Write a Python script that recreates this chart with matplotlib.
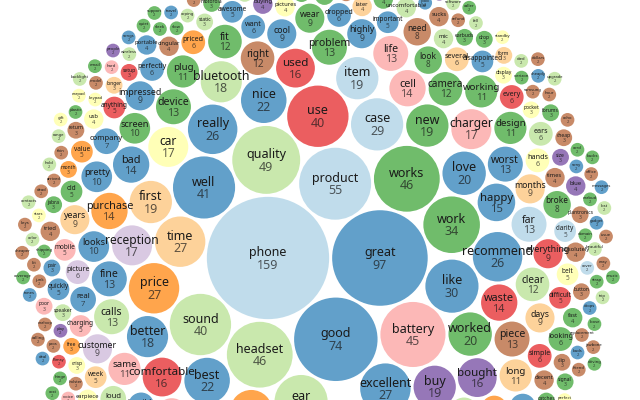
import numpy as np
import matplotlib
matplotlib.use("Agg")
import matplotlib.pyplot as plt
from matplotlib.patches import Circle

# word frequencies in packing order (largest words first)
head_words = [
    "phone", "great", "good", "product", "quality", "headset", "works", "battery",
    "well", "sound", "use", "work", "ear", "like", "case", "excellent", "time", "price",
    "recommend", "really", "service", "best", "nice", "love", "worked",
    "money", "new", "first", "buy", "item", "bluetooth", "headphones", "charger", "car",
    "better", "comfortable", "reception", "bought", "used", "happy", "waste",
    "received", "replace", "buttons", "bad", "purchase", "cell", "far", "reviews",
    "problem", "life", "device", "fine", "calls", "earpieces", "worst", "piece", "right",
    "speakerphone", "charged", "camera", "clear", "fit", "batteries",
    "plug", "design", "long", "working", "amazing", "returned", "same", "fits", "pretty",
    "texts", "screen", "impressed", "looks",
]
head_counts = [
    159, 97, 74, 55, 49, 46, 46, 45,
    41, 40, 40, 34, 30, 30, 29, 27, 27, 27,
    26, 26, 23, 22, 22, 20, 20,
    19, 19, 19, 19, 19, 18, 18, 17, 17,
    18, 16, 17, 16, 16, 15, 14,
    14, 14, 13, 14, 14, 14, 13, 13,
    13, 13, 13, 13, 13, 13, 13, 13, 12,
    11, 11, 12, 12, 12, 10,
    11, 11, 11, 11, 9, 11, 11, 10, 10,
    10, 10, 9, 10,
]
head_groups = [
    0, 1, 1, 0, 2, 2, 3, 4,
    1, 2, 5, 3, 2, 1, 0, 1, 6, 7,
    1, 1, 0, 1, 1, 1, 3,
    7, 3, 6, 9, 0, 2, 2, 4, 10,
    1, 5, 8, 9, 5, 1, 5,
    3, 1, 11, 1, 7, 4, 0, 0,
    3, 4, 3, 1, 2, 2, 1, 11, 11,
    4, 6, 3, 2, 3, 1,
    3, 3, 6, 3, 2, 11, 4, 3, 1,
    1, 3, 1, 1,
]

# smaller words, grouped by count
tail_words = [
    "highly", "months", "days", "call", "years", "everything", "cool", "amazon",
    "wear", "customer",
    "broke", "look", "unit", "need",
    "horrible", "internet", "big", "loud", "audio", "real", "headsets", "company", "completely",
    "picture", "priced", "hands", "three", "want", "every", "perfectly", "cable", "several",
    "dropped", "simple", "looking", "ears",
    "awesome", "connected", "easily", "value", "clarity", "original", "disappointed",
    "important", "difficult", "belt", "expect", "old", "quickly", "charging", "different",
    "week", "hours", "anything", "high", "mobile", "line",
    "usb", "times", "pictures", "buying", "uncomfortable", "tried", "blue", "mic", "ringtone",
    "earpiece", "wife", "later", "sucks", "decent", "easier", "bargain", "leather",
    "instructions", "fast", "outside", "purchased", "cingular", "absolutely", "portable",
    "small", "volume",
    "keyboard", "speaker", "free", "static", "wearing", "catches", "chargers", "pocket",
    "display", "flip", "area", "crisp", "forums", "setup", "month", "size", "pair", "longer",
    "comfort", "form", "charge", "plantronics", "noise", "cheap", "button", "earbuds", "style",
    "clip", "hear", "drop", "poor", "broken", "return", "motorola", "jabra", "sturdy",
    "adapter", "signal",
    "games", "mp3", "graphics", "atoms", "slow", "domain", "play", "durable", "huge", "pros",
    "drops", "angles", "cover", "solution", "coping", "pleased", "stereo", "nokia", "razr",
    "samsung", "verizon", "sony", "ipod", "keypad", "holster", "earbud", "ring", "wireless",
    "gadget", "stars", "warranty", "strap", "replacement", "refund", "seller", "shipping",
    "arrived", "package", "feature", "features", "model", "version", "color", "weight",
    "heavy", "thin", "bulky", "buds", "flimsy", "fragile", "dead", "terrible", "awful",
    "junk", "garbage", "useless", "worthless", "satisfied", "earloop", "wonderful",
    "fantastic", "perfect", "cute", "beautiful", "sleek", "cheaply", "easy", "hard", "quiet",
    "clearly", "echo", "range", "feet", "hour", "minutes", "talk", "standby", "drain", "died",
    "hinge", "plugged", "jawbone", "plastic", "pairing", "earphone", "earpad", "cord",
    "wall", "outlet", "kit", "hold", "loose", "tight", "tones", "fell", "bar", "buzz", "hearing",
    "heard", "voice", "caller", "people", "friend", "husband", "kids", "driving", "office",
    "home", "trip", "travel", "europe", "phones", "antenna", "network", "calling",
    "coverage", "lost", "fix", "issue", "trouble", "support", "software", "computer",
    "laptop", "email", "messages", "texting", "photos", "video", "music", "songs",
    "ringtones", "alarm", "contacts", "numbers", "keys", "lock", "lcd", "bright",
    "backlight", "lanyard", "weeks", "year", "newer", "upgrade", "cost", "gift",
    "dollars", "deal", "bucks", "worth", "cheaper", "expensive", "sale", "wish",
    "again", "ever", "bother", "avoid", "stay",
]
tail_counts = (
    [9] * 10 + [8] * 4 + [7] * 9 + [6] * 13 + [5] * 21 + [4] * 26 + [3] * 40
    + [2] * 150
)
tail_groups = [
    1, 6, 6, 2, 6, 5, 1, 1,
    3, 8,
    3, 3, 0, 11,
    1, 7, 6, 2, 2, 1, 2, 1, 1,
    8, 7, 10, 6, 1, 5, 1, 0, 6,
    1, 5, 3, 2,
    1, 1, 2, 7, 0, 11, 1,
    1, 5, 10, 1, 3, 1, 4, 4,
    6, 6, 5, 0, 4, 4,
    10, 11, 10, 9, 2, 11, 9, 2, 10,
    10, 2, 6, 11, 11, 11, 7, 3,
    11, 3, 11, 9, 11, 11, 1,
    3, 3,
    10, 2, 7, 2, 2, 3, 4, 10,
    10, 11, 10, 10, 3, 5, 7, 9, 1, 6,
    2, 6, 3, 11, 3, 11, 11, 3, 11,
    11, 1, 3, 4, 11, 11, 3, 3, 2,
    11, 3,
    10, 10, 8, 11, 3, 3, 9, 1, 9, 11,
    1, 1, 0, 8, 2, 3, 2, 11, 1,
    11, 3, 1, 1, 10, 11, 3, 2, 2,
    1, 10, 11, 3, 11, 11, 7, 3,
    11, 2, 3, 1, 11, 9, 2, 3, 2,
    11, 3, 1, 5, 10, 11, 1, 5, 11,
    4, 9, 11, 3, 11, 2, 1,
    10, 9, 2, 3, 1, 11, 4, 3, 1, 11, 2, 9,
    11, 1, 3, 10, 11, 2, 3, 1, 11, 3,
    2, 11, 10, 3, 1, 9, 11, 2, 3,
    11, 1, 2, 3, 10, 11, 1, 4, 3, 9, 11,
    2, 1, 3, 11, 10, 2, 1, 11, 3, 9,
    1, 11, 3, 2, 10, 11, 1, 3, 2,
    11, 9, 3, 1, 2, 11, 10, 3, 1,
    11, 3, 2, 1, 11, 3, 9, 10, 2, 11,
    3, 1, 11, 2, 3, 10, 11, 1, 3, 2, 11, 5,
    3, 1, 11, 2, 9, 3, 11, 1, 10, 2, 3,
    11, 1, 3, 2, 11, 10,
]

words = head_words + tail_words
counts = head_counts + tail_counts
groups = head_groups + tail_groups
n = min(len(words), len(counts), len(groups))

palette = ["#a6cee3", "#1f78b4", "#b2df8a", "#33a02c", "#fb9a99", "#e31a1c",
           "#fdbf6f", "#ff7f00", "#cab2d6", "#6a3d9a", "#ffff99", "#b15928"]


# --- front-chain circle packing (port of d3.packSiblings) ---
class Node:
    def __init__(self, c):
        self.c = c
        self.next = None
        self.prev = None


def place(b, a, c):
    dx, dy = b[0] - a[0], b[1] - a[1]
    d2 = dx * dx + dy * dy
    if d2:
        a2 = (a[2] + c[2]) ** 2
        b2 = (b[2] + c[2]) ** 2
        if a2 > b2:
            x = (d2 + b2 - a2) / (2 * d2)
            y = np.sqrt(max(0, b2 / d2 - x * x))
            c[0] = b[0] - x * dx - y * dy
            c[1] = b[1] - x * dy + y * dx
        else:
            x = (d2 + a2 - b2) / (2 * d2)
            y = np.sqrt(max(0, a2 / d2 - x * x))
            c[0] = a[0] + x * dx - y * dy
            c[1] = a[1] + x * dy + y * dx
    else:
        c[0] = a[0] + c[2]
        c[1] = a[1]


def intersects(a, b):
    dr = a[2] + b[2] - 1e-6
    dx, dy = b[0] - a[0], b[1] - a[1]
    return dr > 0 and dr * dr > dx * dx + dy * dy


def score(node):
    a, b = node.c, node.next.c
    ab = a[2] + b[2]
    dx = (a[0] * b[2] + b[0] * a[2]) / ab
    dy = (a[1] * b[2] + b[1] * a[2]) / ab
    return dx * dx + dy * dy


def pack_siblings(circles):
    n = len(circles)
    a = circles[0]
    a[0], a[1] = 0.0, 0.0
    b = circles[1]
    a[0] = -b[2]
    b[0], b[1] = a[2], 0.0
    c = circles[2]
    place(b, a, c)
    a, b, c = Node(a), Node(b), Node(c)
    a.next = c.prev = b
    b.next = a.prev = c
    c.next = b.prev = a
    i = 3
    while i < n:
        c = circles[i]
        place(a.c, b.c, c)
        c = Node(c)
        j, k = b.next, a.prev
        sj, sk = b.c[2], a.c[2]
        restart = False
        while True:
            if sj <= sk:
                if intersects(j.c, c.c):
                    b = j
                    a.next = b
                    b.prev = a
                    restart = True
                    break
                sj += j.c[2]
                j = j.next
            else:
                if intersects(k.c, c.c):
                    a = k
                    a.next = b
                    b.prev = a
                    restart = True
                    break
                sk += k.c[2]
                k = k.prev
            if j is k.next:
                break
        if restart:
            continue
        c.prev = a
        c.next = b
        a.next = c
        b.prev = c
        b = c
        aa = score(a)
        c = c.next
        while c is not b:
            ca = score(c)
            if ca < aa:
                a, aa = c, ca
            c = c.next
        b = a.next
        i += 1


scale = 4.85   # px per sqrt(count)
pad = 1.5

circles = [[0.0, 0.0, scale * np.sqrt(v) + pad] for v in counts[:n]]
pack_siblings(circles)

# view window: the largest bubble sits at (268, 258) px of the canvas
x0, y0 = circles[0][0] - 268, circles[0][1] - 258

fig = plt.figure(figsize=(6.4, 4), dpi=100)
ax = fig.add_axes([0, 0, 1, 1])
ax.set_xlim(x0, x0 + 640)
ax.set_ylim(y0 + 400, y0)
ax.axis("off")

for (x, y, r), w, v, g in zip(circles, words[:n], counts[:n], groups[:n]):
    r = r - pad
    if x + r < x0 or x - r > x0 + 640 or y - r > y0 + 400 or y + r < y0:
        continue
    circ = Circle((x, y), r, facecolor=palette[g], alpha=0.7, edgecolor="none")
    ax.add_patch(circ)
    fs = min(12.5, 0.6 * r) * 0.72
    t1 = ax.text(x, y - 0.15 * fs / 0.72, w, ha="center", va="baseline",
                 fontsize=fs, color="#1a1a1a", family="Noto Sans")
    t2 = ax.text(x, y + 0.85 * fs / 0.72, str(v), ha="center", va="baseline",
                 fontsize=fs, color="#1a1a1a", alpha=0.7, family="Noto Sans")
    clip = Circle((x, y), r, transform=ax.transData)
    t1.set_clip_path(clip)
    t2.set_clip_path(clip)

fig.savefig("out.png", dpi=100)
